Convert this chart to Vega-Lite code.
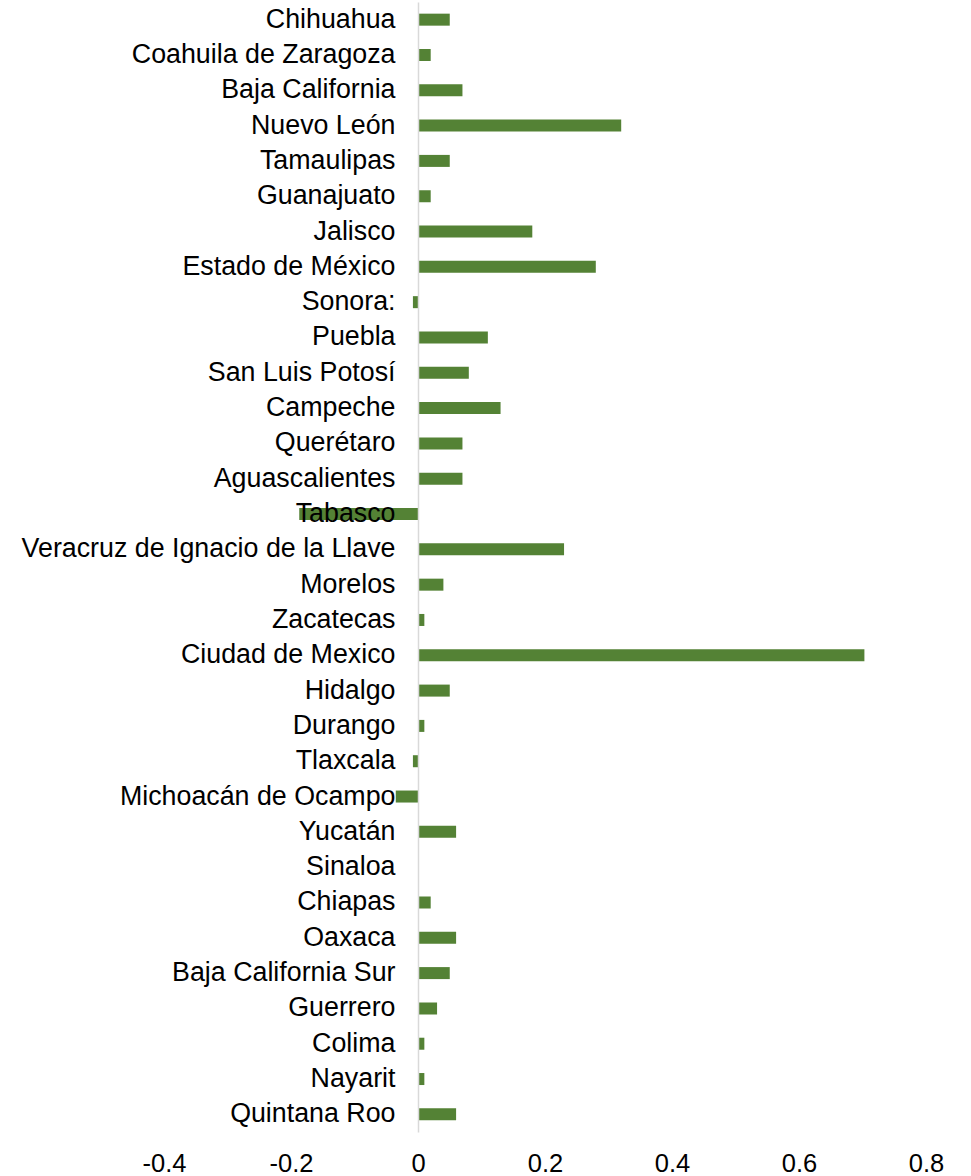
{
  "$schema": "https://vega.github.io/schema/vega-lite/v6.json",
  "autosize": {"type": "none"},
  "width": 762,
  "height": 1130,
  "padding": {"left": 164, "top": 2, "right": 45, "bottom": 44},
  "background": "white",
  "config": {"view": {"stroke": null}, "font": "Liberation Sans"},
  "data": {"values": [
    {"estado": "Chihuahua", "valor": 0.05},
    {"estado": "Coahuila de Zaragoza", "valor": 0.02},
    {"estado": "Baja California", "valor": 0.07},
    {"estado": "Nuevo León", "valor": 0.32},
    {"estado": "Tamaulipas", "valor": 0.05},
    {"estado": "Guanajuato", "valor": 0.02},
    {"estado": "Jalisco", "valor": 0.18},
    {"estado": "Estado de México", "valor": 0.28},
    {"estado": "Sonora:", "valor": -0.008},
    {"estado": "Puebla", "valor": 0.11},
    {"estado": "San Luis Potosí", "valor": 0.08},
    {"estado": "Campeche", "valor": 0.13},
    {"estado": "Querétaro", "valor": 0.07},
    {"estado": "Aguascalientes", "valor": 0.07},
    {"estado": "Tabasco", "valor": -0.187},
    {"estado": "Veracruz de Ignacio de la Llave", "valor": 0.23},
    {"estado": "Morelos", "valor": 0.04},
    {"estado": "Zacatecas", "valor": 0.01},
    {"estado": "Ciudad de Mexico", "valor": 0.703},
    {"estado": "Hidalgo", "valor": 0.05},
    {"estado": "Durango", "valor": 0.01},
    {"estado": "Tlaxcala", "valor": -0.008},
    {"estado": "Michoacán de Ocampo", "valor": -0.035},
    {"estado": "Yucatán", "valor": 0.06},
    {"estado": "Sinaloa", "valor": 0},
    {"estado": "Chiapas", "valor": 0.02},
    {"estado": "Oaxaca", "valor": 0.06},
    {"estado": "Baja California Sur", "valor": 0.05},
    {"estado": "Guerrero", "valor": 0.03},
    {"estado": "Colima", "valor": 0.01},
    {"estado": "Nayarit", "valor": 0.01},
    {"estado": "Quintana Roo", "valor": 0.06}
  ]},
  "mark": {"type": "bar", "color": "#548235"},
  "encoding": {
    "y": {
      "field": "estado", "type": "nominal", "sort": null,
      "scale": {"paddingInner": 0.66, "paddingOuter": 0.33},
      "axis": {
        "title": null, "offset": -254, "ticks": false,
        "domainColor": "#d9d9d9", "domainWidth": 1.5,
        "labelPadding": 23, "labelFontSize": 26.8, "labelColor": "#000000",
        "labelFont": "Liberation Sans", "labelLimit": 600, "zindex": 1
      }
    },
    "x": {
      "field": "valor", "type": "quantitative",
      "scale": {"domain": [-0.4, 0.8], "nice": false, "zero": false},
      "axis": {
        "title": null, "values": [-0.4, -0.2, 0, 0.2, 0.4, 0.6, 0.8],
        "labelExpr": "datum.value < 0 ? '-' + format(-datum.value, '~g') : format(datum.value, '~g')",
        "grid": false, "ticks": false, "domain": false,
        "labelPadding": 19, "labelFontSize": 25.5, "labelColor": "#000000",
        "labelFont": "Liberation Sans", "labelFlush": false
      }
    }
  }
}
